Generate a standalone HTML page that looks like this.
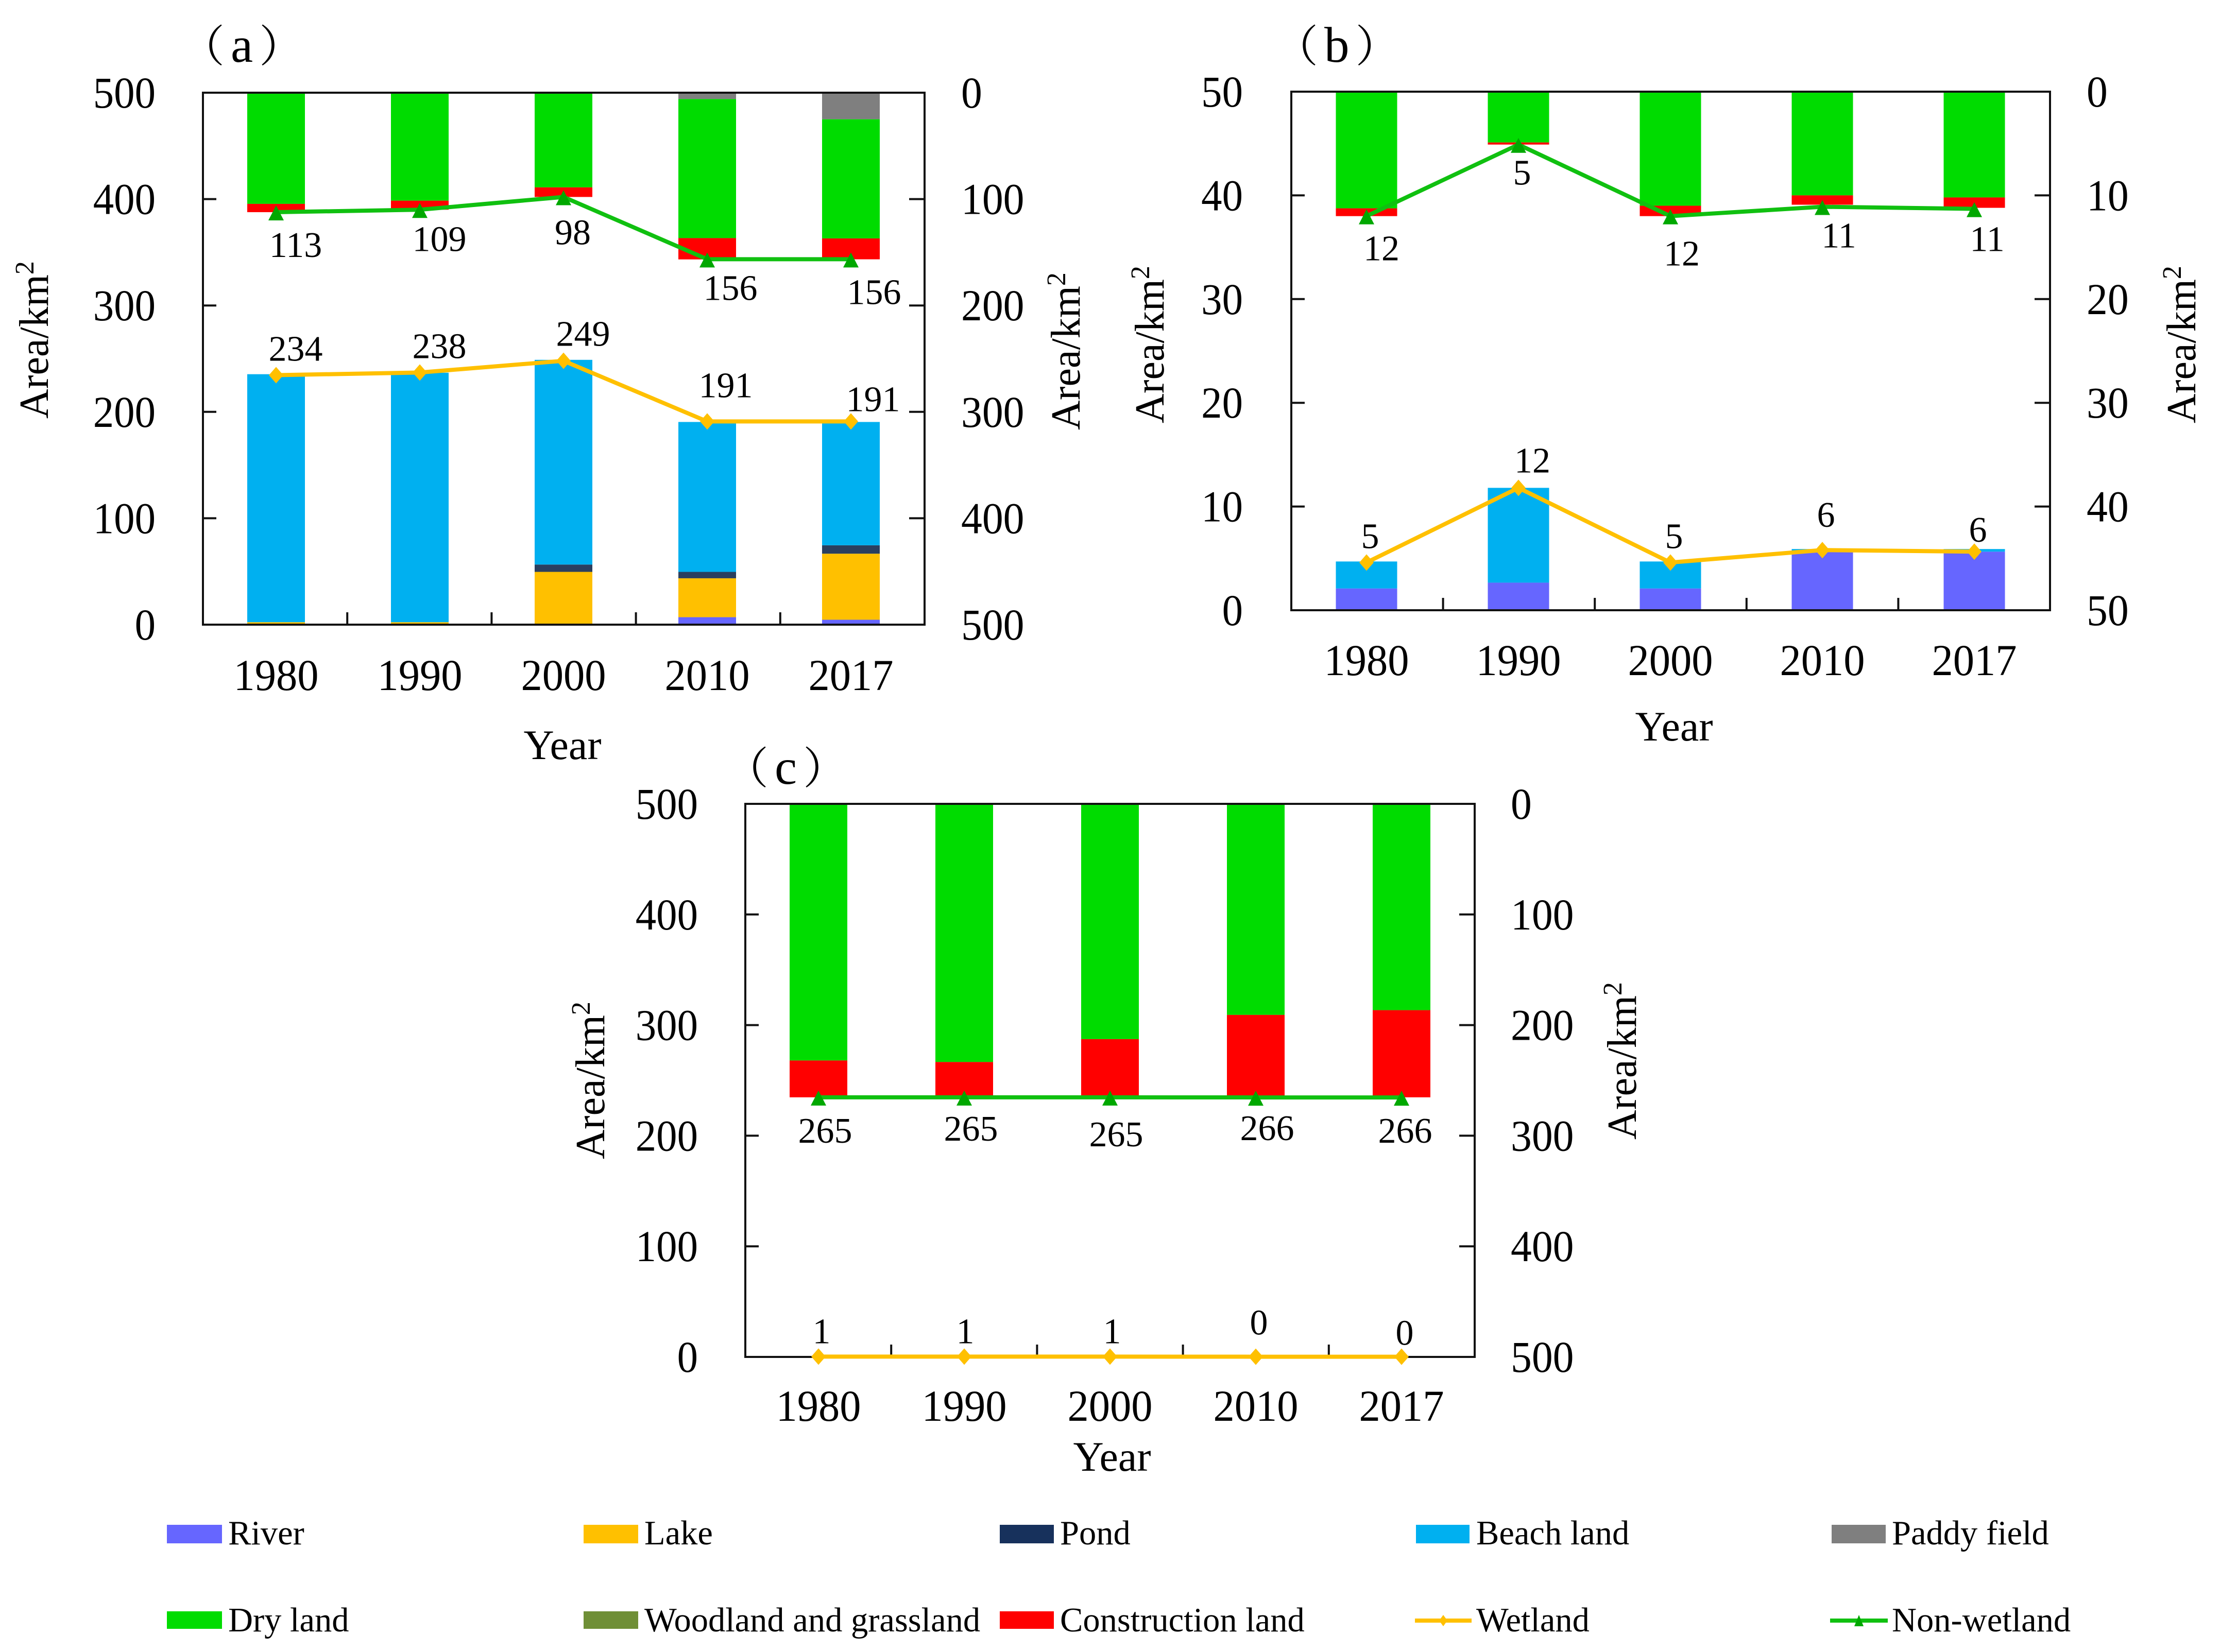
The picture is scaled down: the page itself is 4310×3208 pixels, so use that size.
<!DOCTYPE html>
<html lang="en">
<head>
<meta charset="utf-8">
<title>Land use area change charts</title>
<style>
html,body{margin:0;padding:0;background:#fff;}
svg{display:block;font-family:"Liberation Serif","Noto Serif CJK SC",serif;fill:#000;}
</style>
</head>
<body>
<svg id="figure" xmlns="http://www.w3.org/2000/svg" width="4310" height="3208" viewBox="0 0 4310 3208">
<rect x="0" y="0" width="4310" height="3208" fill="#fff"/>
<g id="charts"></g>
<g id="legend" font-size="66.5">
  <g><rect x="324" y="2961" width="107" height="36" fill="#6666FF"/><text x="443" y="2999">River</text></g>
  <g><rect x="1133" y="2961" width="106" height="36" fill="#FFC000"/><text x="1251" y="2999">Lake</text></g>
  <g><rect x="1941" y="2961" width="105" height="36" fill="#17315C"/><text x="2058" y="2999">Pond</text></g>
  <g><rect x="2749" y="2961" width="104" height="36" fill="#00B0F0"/><text x="2866" y="2999">Beach land</text></g>
  <g><rect x="3556" y="2961" width="105" height="36" fill="#7F7F7F"/><text x="3673" y="2999">Paddy field</text></g>
  <g><rect x="324" y="3129" width="107" height="34" fill="#00DC00"/><text x="443" y="3168">Dry land</text></g>
  <g><rect x="1133" y="3129" width="106" height="34" fill="#6F8F36"/><text x="1251" y="3168">Woodland and grassland</text></g>
  <g><rect x="1941" y="3129" width="105" height="34" fill="#FF0000"/><text x="2058" y="3168">Construction land</text></g>
  <g><line x1="2747" y1="3147" x2="2857" y2="3147" stroke="#FFC000" stroke-width="8"/><polygon points="2802,3136 2810,3147 2802,3158 2794,3147" fill="#FFC000"/><text x="2866" y="3168">Wetland</text></g>
  <g><line x1="3553" y1="3147" x2="3665" y2="3147" stroke="#10C010" stroke-width="8"/><polygon points="3609,3136 3618,3158 3600,3158" fill="#00A800"/><text x="3673" y="3168">Non-wetland</text></g>
</g>
</svg>
<script>
const years = ['1980', '1990', '2000', '2010', '2017'];
const none = [0, 0, 0, 0, 0];

const ticksHundreds = [0, 100, 200, 300, 400, 500];
const ticksTens = [0, 10, 20, 30, 40, 50];

const aRiver = [0, 0, 0, 7, 4.6];
const aLake = [2.3, 2.3, 49.6, 36.6, 62.1];
const aPond = [0, 0, 6.9, 6, 7.9];
const aBeach = [233.1, 234.5, 192.4, 140.9, 115.9];
const aPaddy = [0, 0, 0, 6, 25];
const aDry = [104.5, 101.5, 89, 130.7, 112];
const aConstruction = [7.8, 8.5, 9, 20, 19.6];
const aWetland = [234.5, 237, 248, 191, 191];
const aNonWetland = [112.3, 110, 98, 156.5, 156.5];
const aWetlandLabels = ['234', '238', '249', '191', '191'];
const aNonWetlandLabels = ['113', '109', '98', '156', '156'];

const bRiver = [2.1, 2.66, 2.1, 5.65, 5.65];
const bBeach = [2.6, 9.14, 2.6, 0.25, 0.25];
const bDry = [11.25, 4.9, 11, 10, 10.2];
const bConstruction = [0.75, 0.2, 1, 0.9, 1];
const bWetland = [4.6, 11.8, 4.6, 5.8, 5.65];
const bNonWetland = [12, 5.1, 12, 11.1, 11.3];
const bWetlandLabels = ['5', '12', '5', '6', '6'];
const bNonWetlandLabels = ['12', '5', '12', '11', '11'];

const cDry = [232, 233.4, 212.7, 190.8, 186.5];
const cConstruction = [33.3, 31.9, 52.6, 74.5, 78.8];
const cWetland = [0.3, 0.3, 0.3, 0.2, 0.2];
const cNonWetland = [265.3, 265.3, 265.3, 265.4, 265.4];
const cWetlandLabels = ['1', '1', '1', '0', '0'];
const cNonWetlandLabels = ['265', '265', '265', '266', '266'];

const COLORS = {river:'#6666FF', lake:'#FFC000', pond:'#2A3F5F', beach:'#00B0F0', paddy:'#7F7F7F', dry:'#00DC00', construction:'#FF0000', wetland:'#FFC000', nonWetland:'#10C010', triangle:'#00A800'};
const NS = 'http://www.w3.org/2000/svg';
const host = document.getElementById('charts');

function make(tag, attrs, parent) {
  const el = document.createElementNS(NS, tag);
  for (const k in attrs) el.setAttribute(k, attrs[k]);
  parent.appendChild(el);
  return el;
}
function squeezed(x, y, str, size, anchor, sx, parent) {
  const el = make('text', {transform: 'translate(' + x + ',' + y + ') scale(' + sx + ',1)', 'font-size': size, 'text-anchor': anchor}, parent);
  el.textContent = str;
  return el;
}

function drawPanel(p) {
  const g = make('g', {}, host);
  
  
  const w = p.right - p.left;
  const h = p.bottom - p.top;
  const catW = w / years.length;
  const xAt = i => p.xFirst + i * p.xStep;
  const yLeft = v => p.bottom - v / p.max * h;
  const yRight = v => p.top + v / p.max * h;

  // bars
  years.forEach((year, i) => {
    let base = 0;
    p.lower.forEach(s => {
      const val = s.values[i];
      if (val > 0) {
        const r = make('rect', {x: xAt(i) - p.barW / 2, y: yLeft(base + val), width: p.barW, height: yLeft(base) - yLeft(base + val), fill: s.color}, g);
        
        
      }
      base += val;
    });
    let hang = 0;
    p.upper.forEach(s => {
      const val = s.values[i];
      if (val > 0) {
        const r = make('rect', {x: xAt(i) - p.barW / 2, y: yRight(hang), width: p.barW, height: yRight(hang + val) - yRight(hang), fill: s.color}, g);
        
        
      }
      hang += val;
    });
  });

  // frame
  const frame = make('rect', {x: p.left, y: p.top, width: w, height: h, fill: 'none', stroke: '#111', 'stroke-width': 4}, g);
  
  

  // y ticks
  p.ticks.forEach(t => {
    if (t > 0 && t < p.max) {
      const tl = make('line', {x1: p.left, x2: p.left + 26, y1: yLeft(t), y2: yLeft(t), stroke: '#111', 'stroke-width': 4}, g);
      
      
      const tr = make('line', {x1: p.right - 30, x2: p.right, y1: yLeft(t), y2: yLeft(t), stroke: '#111', 'stroke-width': 4}, g);
      
      
    }
    const ll = squeezed(p.left - p.leftGap, yLeft(t) + 29, String(t), 86, 'end', 0.94, g);
    
    
    const rl = squeezed(p.right + p.rightGap, yRight(t) + 29, String(t), 86, 'start', 0.95, g);
    
    
  });

  // x ticks & labels
  years.forEach((year, i) => {
    if (i > 0) {
      const tx = make('line', {x1: p.left + i * catW, x2: p.left + i * catW, y1: p.bottom - 24, y2: p.bottom, stroke: '#111', 'stroke-width': 4}, g);
      
      
    }
    const xl = squeezed(xAt(i), p.xLabelY, year, 86, 'middle', 0.96, g);
    
    
  });

  // lines
  const linePts = (vals, yf) => vals.map((v, i) => xAt(i) + ',' + yf(v)).join(' ');
  const wl = make('polyline', {points: linePts(p.wetland, yLeft), fill: 'none', stroke: COLORS.wetland, 'stroke-width': 8}, g);
  
  
  const nl = make('polyline', {points: linePts(p.nonWetland, yRight), fill: 'none', stroke: COLORS.nonWetland, 'stroke-width': 8}, g);
  
  

  years.forEach((year, i) => {
    const wx = xAt(i);
    const wy = yLeft(p.wetland[i]);
    const d = make('polygon', {points: (wx) + ',' + (wy - 16) + ' ' + (wx + 14) + ',' + wy + ' ' + wx + ',' + (wy + 16) + ' ' + (wx - 14) + ',' + wy, fill: COLORS.wetland}, g);
    
    
    const ny = yRight(p.nonWetland[i]);
    const tri = make('polygon', {points: wx + ',' + (ny - 13) + ' ' + (wx + 15) + ',' + (ny + 16) + ' ' + (wx - 15) + ',' + (ny + 16), fill: COLORS.triangle}, g);
    
    
    const a = squeezed(wx + p.wetNudgeX[i], wy + p.wetNudgeY[i], p.wetlandLabels[i], 70, 'middle', 1, g);
    
    
    const b = squeezed(wx + p.nonNudgeX[i], ny + p.nonNudgeY[i], p.nonWetlandLabels[i], 70, 'middle', 1, g);
    
    
  });

  // axis titles
  const yt = make('text', {transform: 'translate(' + p.yTitleLeft[0] + ',' + p.yTitleLeft[1] + ') rotate(-90)', 'font-size': 80, 'text-anchor': 'middle'}, g);
  
  
  yt.textContent = 'Area/km';
  const ys = make('tspan', {dy: -28, 'font-size': 52}, yt);
  ys.textContent = '2';
  const yr = make('text', {transform: 'translate(' + p.yTitleRight[0] + ',' + p.yTitleRight[1] + ') rotate(-90)', 'font-size': 80, 'text-anchor': 'middle'}, g);
  
  
  yr.textContent = 'Area/km';
  const yrs = make('tspan', {dy: -28, 'font-size': 52}, yr);
  yrs.textContent = '2';
  const xt = make('text', {x: p.xTitle[0], y: p.xTitle[1], 'font-size': 82, 'text-anchor': 'middle'}, g);
  
  
  xt.textContent = 'Year';

  // panel tag
  const tag = make('text', {x: p.tag[0], y: p.tag[1], 'font-size': 85, 'letter-spacing': 12}, g);
  
  
  tag.textContent = '（';
  const tagLetter = make('tspan', {'font-size': 97}, tag);
  tagLetter.textContent = p.id;
  const tagClose = make('tspan', {}, tag);
  tagClose.textContent = '）';
}

drawPanel({
  id: 'a', left: 394, right: 1795, top: 180, bottom: 1213, max: 500, barW: 112, xFirst: 536, xStep: 279, ticks: ticksHundreds,
  leftGap: 92, rightGap: 71, xLabelY: 1340, xTitle: [1092, 1474], yTitleLeft: [93, 660], yTitleRight: [2096, 682], tag: [351, 120],
  lower: [{name:'river', color:COLORS.river, values:aRiver}, {name:'lake', color:COLORS.lake, values:aLake}, {name:'pond', color:COLORS.pond, values:aPond}, {name:'beach-land', color:COLORS.beach, values:aBeach}],
  upper: [{name:'paddy-field', color:COLORS.paddy, values:aPaddy}, {name:'dry-land', color:COLORS.dry, values:aDry}, {name:'construction-land', color:COLORS.construction, values:aConstruction}],
  wetland: aWetland, nonWetland: aNonWetland, wetlandLabels: aWetlandLabels, nonWetlandLabels: aNonWetlandLabels,
  wetNudgeX: [38, 38, 38, 36, 43], wetNudgeY: [-28, -28, -29, -47, -20],
  nonNudgeX: [38, 38, 18, 45, 45], nonNudgeY: [87, 80, 92, 79, 87]
});
drawPanel({
  id: 'b', left: 2507, right: 3980, top: 178, bottom: 1185, max: 50, barW: 119, xFirst: 2653, xStep: 295, ticks: ticksTens,
  leftGap: 94, rightGap: 71, xLabelY: 1311, xTitle: [3250, 1438], yTitleLeft: [2259, 669], yTitleRight: [4262, 669], tag: [2474, 120],
  lower: [{name:'river', color:COLORS.river, values:bRiver}, {name:'lake', color:COLORS.lake, values:none}, {name:'pond', color:COLORS.pond, values:none}, {name:'beach-land', color:COLORS.beach, values:bBeach}],
  upper: [{name:'paddy-field', color:COLORS.paddy, values:none}, {name:'dry-land', color:COLORS.dry, values:bDry}, {name:'construction-land', color:COLORS.construction, values:bConstruction}],
  wetland: bWetland, nonWetland: bNonWetland, wetlandLabels: bWetlandLabels, nonWetlandLabels: bNonWetlandLabels,
  wetNudgeX: [7, 27, 7, 7, 7], wetNudgeY: [-28, -30, -28, -45, -19],
  nonNudgeX: [29, 7, 22, 32, 25], nonNudgeY: [86, 78, 96, 79, 82]
});
drawPanel({
  id: 'c', left: 1447, right: 2863, top: 1561, bottom: 2635, max: 500, barW: 112, xFirst: 1589, xStep: 283, ticks: ticksHundreds,
  leftGap: 92, rightGap: 70, xLabelY: 2759, xTitle: [2159, 2856], yTitleLeft: [1173, 2098], yTitleRight: [3176, 2060], tag: [1407, 1522],
  lower: [{name:'river', color:COLORS.river, values:none}, {name:'lake', color:COLORS.lake, values:none}, {name:'pond', color:COLORS.pond, values:none}, {name:'beach-land', color:COLORS.beach, values:none}],
  upper: [{name:'paddy-field', color:COLORS.paddy, values:none}, {name:'dry-land', color:COLORS.dry, values:cDry}, {name:'construction-land', color:COLORS.construction, values:cConstruction}],
  wetland: cWetland, nonWetland: cNonWetland, wetlandLabels: cWetlandLabels, nonWetlandLabels: cNonWetlandLabels,
  wetNudgeX: [6, 2, 4, 6, 6], wetNudgeY: [-26, -26, -26, -43, -23],
  nonNudgeX: [13, 13, 12, 22, 7], nonNudgeY: [88, 84, 95, 83, 88]
});
</script>
</body>
</html>
